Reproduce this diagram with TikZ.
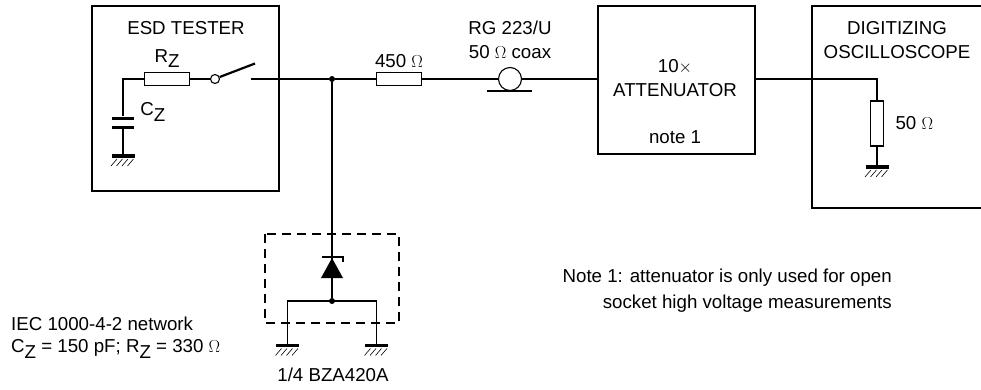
\documentclass[tikz,border=0pt]{standalone}
\usepackage{fontspec}
\setmainfont{Liberation Sans}
\usetikzlibrary{calc,positioning}
\newcommand{\sbZ}{\raisebox{-0.28em}{Z}}
\newcommand{\earthmarks}[1]{\foreach \i in {-9,-3.5,2,7.5} \draw[hatchline] ($(#1.south)+(\i+3,1)$) -- ++(-6,7);}

\begin{document}
\begin{tikzpicture}[x=1pt,y=-1pt]
  \tikzset{label/.style = {inner sep = 0pt, font = \fontsize{18.7}{24}\selectfont}}
  \tikzset{block/.style = {shape = rectangle, draw = black, line width = 2pt, anchor = north west}}
  \tikzset{wire/.style = {line width = 1.1pt}}
  \tikzset{res/.style = {shape = rectangle, draw = black, fill = white, line width = 1.1pt, inner sep = 0pt, minimum width = 45pt, minimum height = 13.5pt}}
  \tikzset{vres/.style = {res, minimum width = 13.5pt, minimum height = 45pt}}
  \tikzset{earth/.style = {shape = rectangle, fill = black, inner sep = 0pt, minimum width = 23pt, minimum height = 3.5pt}}
  \tikzset{hatchline/.style = {line width = 0.6pt}}
  \tikzset{plate/.style = {shape = rectangle, fill = black, inner sep = 0pt, minimum width = 22pt, minimum height = 3pt}}
  \tikzset{dot/.style = {shape = circle, fill = black, inner sep = 0pt, minimum size = 6pt}}

  \useasboundingbox (0,0) rectangle (981,389);

  % blocks
  \node[block, minimum width = 187pt, minimum height = 185pt] (Tester) at (91,5) {};
  \node[block, minimum width = 157pt, minimum height = 148pt] (Atten) at (597,5) {};
  \node[block, minimum width = 200pt, minimum height = 202pt] (Scope) at (811,5) {};
  \node[label] (TesterName) at (186,28) {ESD TESTER};
  \node[label, align = center] (AttenName) at (675,78.5) {10$\times$\\ATTENUATOR};
  \node[label] (AttenNote) at (675,137) {note 1};
  \node[label, align = center] (ScopeName) at (897,40) {DIGITIZING\\OSCILLOSCOPE};

  % tester
  \node[res] (Rz) at (167,79) {};
  \node[label, above = 4pt of Rz] (RzName) {R\sbZ};
  \node[shape = circle, draw = black, line width = 1.1pt, inner sep = 0pt, minimum size = 9pt] (Pole) at (215,79) {};
  \coordinate (BladeEnd) at (255,63.5);
  \coordinate (Contact) at (251,79);
  \coordinate (Corner) at (123,79);
  \node[plate] (CzTop) at (123,118) {};
  \node[plate] (CzBot) at (123,127.5) {};
  \node[label, right = 6pt of CzTop.east, yshift = 6pt] (CzName) {C\sbZ};
  \node[earth] (GndCz) at (123,156) {};
  \draw[wire] (CzTop.north) -- (Corner) -- (Rz.west);
  \draw[wire] (Rz.east) -- (Pole.west);
  \draw[line width = 2.2pt] (Pole.23) -- (BladeEnd);
  \draw[wire] (CzBot.south) -- (GndCz.north);
  \earthmarks{GndCz}

  % line to the attenuator
  \node[dot] (Junction) at (332,79) {};
  \node[res] (R450) at (399,79) {};
  \node[label, above = 4pt of R450] (R450Name) {450 $\Omega$};
  \node[shape = circle, draw = black, line width = 1.1pt, inner sep = 0pt, minimum size = 23pt] (Coax) at (510,79) {};
  \node[label, align = center, above = 8pt of Coax] (CoaxName) {RG 223/U\\50 $\Omega$ coax};
  \coordinate (CoaxLeft) at (487,91);
  \coordinate (CoaxRight) at (532,91);
  \draw[wire] (Contact) -- (Junction) -- (R450.west);
  \draw[wire] (R450.east) -- (Coax.west);
  \draw[wire] (Coax.east) -- (Atten.west |- Coax.east);
  \draw[wire] (CoaxLeft) -- (CoaxRight);

  % scope
  \node[vres] (R50) at (877,123.5) {};
  \node[label, right = 11pt of R50] (R50Name) {50 $\Omega$};
  \node[earth] (GndScope) at (877,167) {};
  \coordinate (ScopeCorner) at (877,79);
  \draw[wire] (Atten.east |- ScopeCorner) -- (ScopeCorner) -- (R50.north);
  \draw[wire] (R50.south) -- (GndScope.north);
  \earthmarks{GndScope}

  % protection diode
  \draw[line width = 2pt, dashed, dash pattern = on 9pt off 6pt] (265,234) rectangle (399,323);
  \coordinate (BarLeft) at (322,257);
  \coordinate (BarRight) at (343,257);
  \coordinate (BarTick) at (343,262);
  \coordinate (Apex) at (332,258);
  \coordinate (BaseLeft) at (321,278);
  \coordinate (BaseRight) at (343,278);
  \node[dot] (DiodeNode) at (332,301) {};
  \node[earth] (GndA) at (287.5,345.5) {};
  \node[earth] (GndB) at (376.5,345.5) {};
  \coordinate (TeeLeft) at (287.5,301);
  \coordinate (TeeRight) at (376.5,301);
  \draw[wire] (Junction) -- (Apex);
  \draw[line width = 1.6pt] (BarLeft) -- (BarRight) -- (BarTick);
  \fill (Apex) -- (BaseRight) -- (BaseLeft) -- cycle;
  \draw[wire] (Apex) -- (DiodeNode);
  \draw[wire] (GndA.north) -- (TeeLeft) -- (TeeRight) -- (GndB.north);
  \earthmarks{GndA}
  \earthmarks{GndB}
  \node[label] (DiodeName) at (333,375) {1/4 BZA420A};

  % notes
  \node[label, anchor = west] (NetName) at (11,324) {IEC 1000-4-2 network};
  \node[label, anchor = west] (NetValues) at (11,349) {C\sbZ{} = 150 pF; R\sbZ{} = 330 $\Omega$};
  \node[label, anchor = east] (NoteA) at (892,278) {Note 1: attenuator is only used for open};
  \node[label, anchor = east] (NoteB) at (892,304) {socket high voltage measurements};
\end{tikzpicture}
\end{document}
